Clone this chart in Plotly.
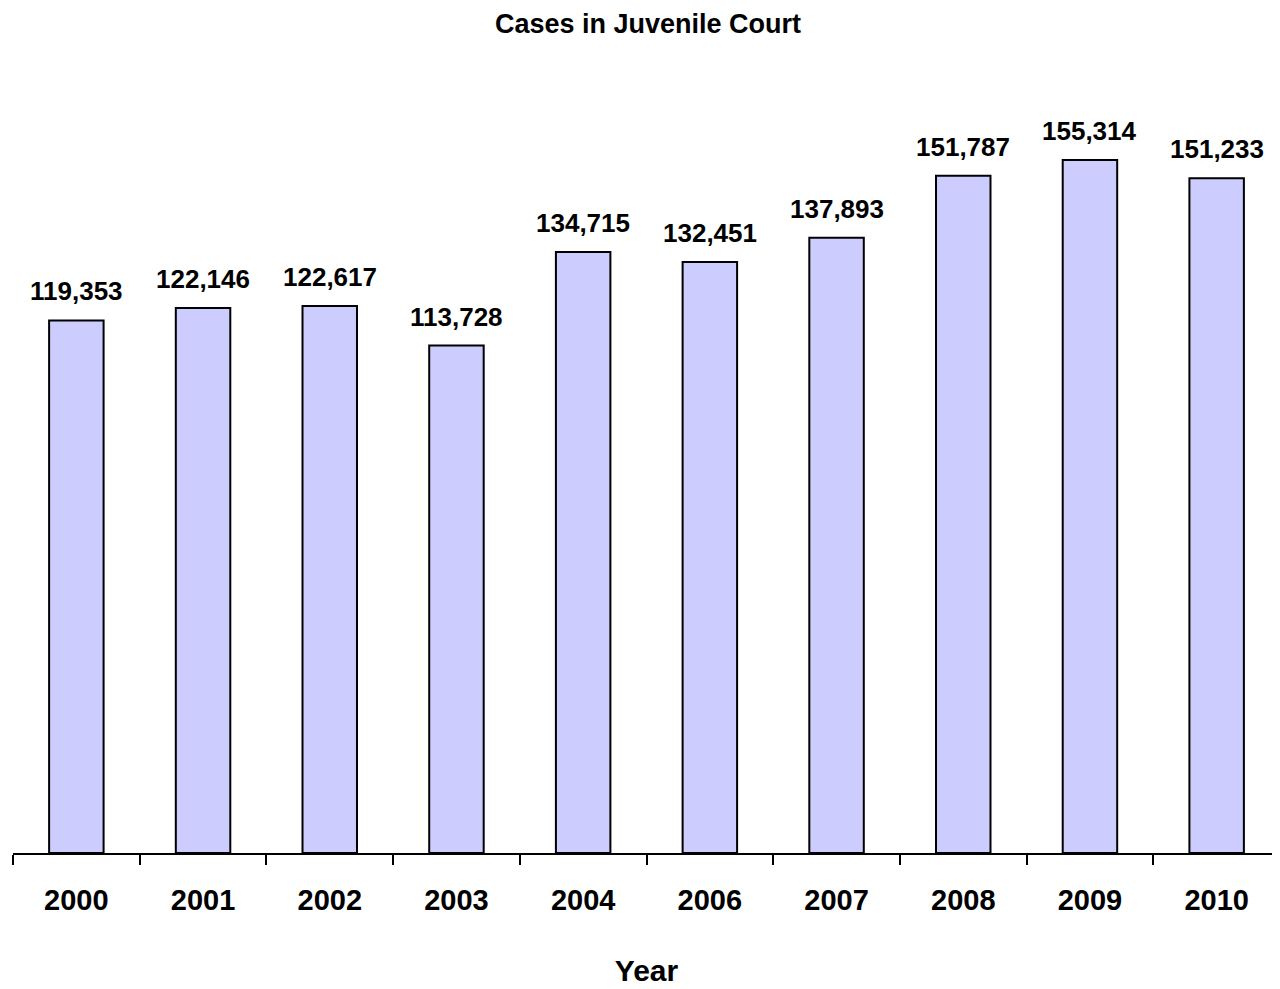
import plotly.graph_objects as go

years = ["2000", "2001", "2002", "2003", "2004", "2006", "2007", "2008", "2009", "2010"]
cases = [119353, 122146, 122617, 113728, 134715, 132451, 137893, 151787, 155314, 151233]
labels = [f"{v:,}" for v in cases]

FONT = "Liberation Sans, Arial, sans-serif"

fig = go.Figure(go.Bar(
    x=years, y=cases,
    marker=dict(color="#CCCCFF", line=dict(color="black", width=2)),
))

fig.update_layout(
    width=1280, height=989,
    paper_bgcolor="white", plot_bgcolor="white",
    margin=dict(l=5, r=8, t=92, b=144),
    bargap=0.57,
    showlegend=False,
    title=dict(text="<b>Cases in Juvenile Court</b>", x=0.5, xanchor="center",
               y=0.9845, yanchor="middle",
               font=dict(family=FONT, size=27, color="black")),
    xaxis=dict(
        type="category",
        showline=True, linecolor="black", linewidth=2,
        ticks="outside", tickson="boundaries", ticklen=10, tickwidth=2, tickcolor="black",
        ticklabelstandoff=20,
        tickfont=dict(family=FONT, size=29, color="black", weight="bold"),
        showgrid=False,
        title=dict(text="<b>Year</b>", font=dict(family=FONT, size=30, color="black"), standoff=45),
    ),
    yaxis=dict(range=[0, 168763], visible=False, showgrid=False, zeroline=False),
)

for i, (v, lab) in enumerate(zip(cases, labels)):
    fig.add_annotation(x=i, y=v, xref="x", yref="y", text=f"<b>{lab}</b>", showarrow=False,
                       yanchor="bottom", yshift=12,
                       font=dict(family=FONT, size=26, color="black"))

fig.write_html("out.html")
